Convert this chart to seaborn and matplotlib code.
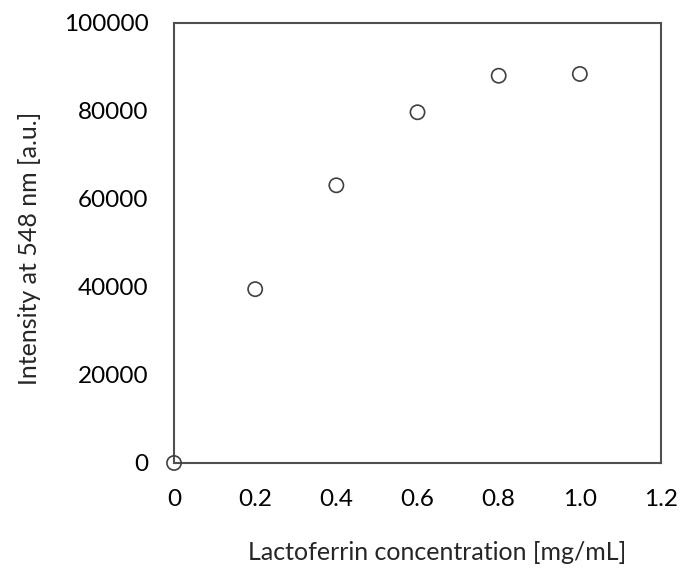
import pandas as pd
import seaborn as sns
import matplotlib.pyplot as plt

# lactoferrin concentration vs fluorescence intensity
conc = [0.0, 0.2, 0.4, 0.6, 0.8, 1.0]
intensity = [0, 39500, 63100, 79700, 88000, 88400]
xticks = [0, 0.2, 0.4, 0.6, 0.8, 1.0, 1.2]
xticklabels = ['0', '0.2', '0.4', '0.6', '0.8', '1.0', '1.2']
yticks = [0, 20000, 40000, 60000, 80000, 100000]

df = pd.DataFrame({'conc': conc, 'intensity': intensity})

sns.set_style('white')
plt.rcParams['font.family'] = ['Lato', 'DejaVu Sans']

fig = plt.figure(figsize=(6.83, 5.73), dpi=100)
ax = fig.add_axes([0.2548, 0.192, 0.713, 0.768])

sns.scatterplot(x='conc', y='intensity', data=df, ax=ax, s=105, marker='o',
                facecolor='none', edgecolor='#404040', linewidth=1.2,
                clip_on=False, zorder=3)

ax.set_xlim(0, 1.2)
ax.set_ylim(0, 100000)
ax.set_xticks(xticks)
ax.set_xticklabels(xticklabels)
ax.set_yticks(yticks)
ax.tick_params(direction='in', length=5, width=1.2, color='#505050',
               labelsize=17.5, labelcolor='black', pad=18.5)
for sp in ax.spines.values():
    sp.set_color('#505050')
    sp.set_linewidth(1.5)

ax.set_xlabel('Lactoferrin concentration [mg/mL]', fontsize=18)
ax.set_ylabel('Intensity at 548 nm [a.u.]', fontsize=18)
# labels sit a bit off the axes centre in the original
ax.xaxis.set_label_coords(0.540, -0.177)
ax.yaxis.set_label_coords(-0.274, 0.487)

fig.savefig('out.png', dpi=100)
